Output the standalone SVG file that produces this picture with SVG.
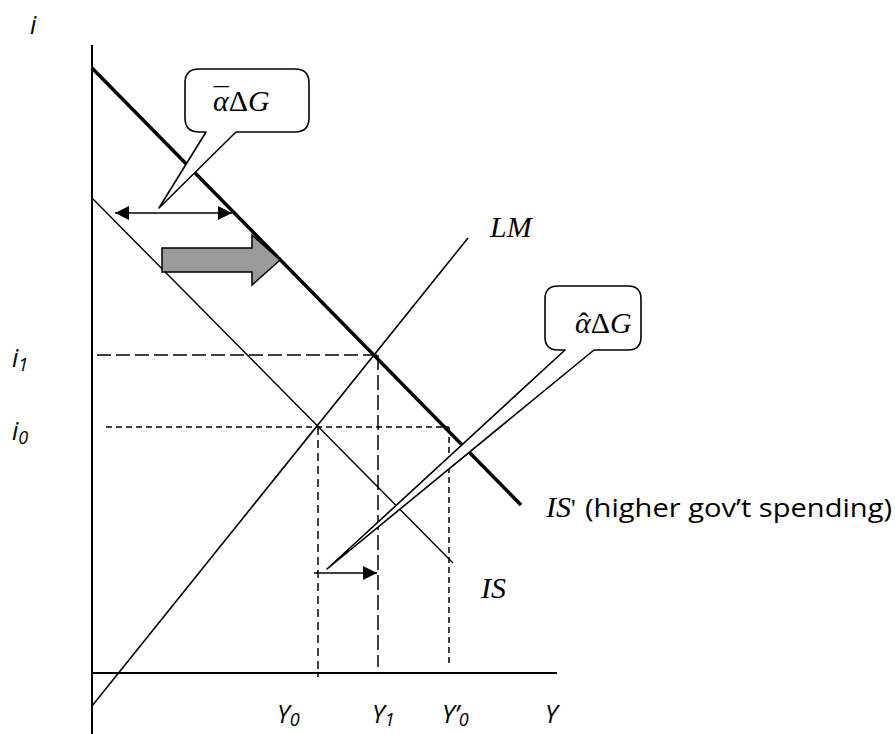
<svg xmlns="http://www.w3.org/2000/svg" width="895" height="734" viewBox="0 0 895 734">
<style>
.ax{stroke:#000;stroke-width:2;fill:none}
.ln{stroke:#000;fill:none;stroke-linecap:butt}
.lbl{font-family:"Open Sans","Liberation Sans",sans-serif;font-style:italic;font-size:25px;fill:#000}
.sub{font-size:18px}
.tm{font-family:"Liberation Serif","DejaVu Serif",serif;font-style:italic;font-size:30px;fill:#000}
.up{font-style:normal}
.note{font-family:"Open Sans","Liberation Sans",sans-serif;font-size:26px;fill:#000}
.call{fill:#fff;stroke:#000;stroke-width:1.6;stroke-linejoin:round}
</style>
<defs>
<marker id="ah" viewBox="0 0 10 10" refX="10" refY="5" markerWidth="16" markerHeight="14" markerUnits="userSpaceOnUse" orient="auto-start-reverse">
<path d="M0,0 L10,5 L0,10 Z" fill="#000"/>
</marker>
</defs>
<rect width="895" height="734" fill="#fff"/>

<g id="axes">
<line class="ax" x1="92" y1="45" x2="92" y2="734"/>
<line class="ax" x1="92" y1="673" x2="557" y2="673"/>
</g>

<g id="guides">
<line class="ln" stroke-width="1.5" stroke-dasharray="14,5" x1="97" y1="355" x2="378" y2="355"/>
<line class="ln" stroke-width="1.5" stroke-dasharray="15,5" x1="378" y1="355" x2="378" y2="667"/>
<line class="ln" stroke-width="1.5" stroke-dasharray="6,4" x1="106" y1="427" x2="449" y2="427"/>
<line class="ln" stroke-width="1.5" stroke-dasharray="8,5" x1="318" y1="427" x2="318" y2="677"/>
<line class="ln" stroke-width="1.5" stroke-dasharray="6,4" x1="449" y1="427" x2="449" y2="667"/>
</g>

<g id="curves">
<line id="LM" class="ln" stroke-width="1.6" x1="92" y1="706" x2="468" y2="238"/>
<line id="IS" class="ln" stroke-width="1.4" x1="93" y1="199" x2="453" y2="563"/>
<line id="ISp" class="ln" stroke-width="3.5" x1="92" y1="68" x2="521" y2="505"/>
</g>

<g id="connectors">
<line class="ln" stroke-width="1.6" x1="115" y1="213" x2="232" y2="213" marker-start="url(#ah)" marker-end="url(#ah)"/>
<line class="ln" stroke-width="1.6" x1="314" y1="573" x2="377" y2="573" marker-end="url(#ah)"/>
<path id="shift" d="M162,248 H252 V235 L280,260 L252,285 V272 H162 Z" fill="#9a9a9a" stroke="#000" stroke-width="1.5"/>
</g>

<g id="callout1">
<path class="call" d="M199,69 H295 Q309,69 309,83 V118 Q309,132 295,132 H236 L159,208 L206,132 H199 Q185,132 185,118 V83 Q185,69 199,69 Z"/>
<text class="tm" x="213" y="111">α<tspan class="up" dx="-15" dy="-3">¯</tspan><tspan class="up" dx="0" dy="3">Δ</tspan>G</text>
</g>

<g id="callout2">
<path class="call" d="M558,286 H628 Q641,286 641,299 V337 Q641,350 628,350 H594 L327,569 L565,350 H558 Q545,350 545,337 V299 Q545,286 558,286 Z"/>
<text class="tm" x="575" y="333">α<tspan class="up" dx="-12">ˆ</tspan><tspan class="up" dx="2">Δ</tspan>G</text>
</g>

<g id="labels">
<text class="lbl" x="30" y="34">i</text>
<text class="lbl" x="12" y="367">i<tspan class="sub" dy="4">1</tspan></text>
<text class="lbl" x="12" y="440">i<tspan class="sub" dy="4">0</tspan></text>
<text class="lbl" x="277" y="723">Y<tspan class="sub" dy="3">0</tspan></text>
<text class="lbl" x="372" y="723">Y<tspan class="sub" dy="3">1</tspan></text>
<text class="lbl" x="442" y="723">Y’<tspan class="sub" dy="3">0</tspan></text>
<text class="lbl" x="545" y="723">Y</text>
<text class="tm" x="490" y="237">LM</text>
<text class="tm" x="481" y="598">IS</text>
<text class="tm" x="546" y="517">IS<tspan class="up" font-size="26">'</tspan></text>
<text class="note" x="585" y="517" textLength="307" lengthAdjust="spacingAndGlyphs">(higher gov’t spending)</text>
</g>
</svg>
